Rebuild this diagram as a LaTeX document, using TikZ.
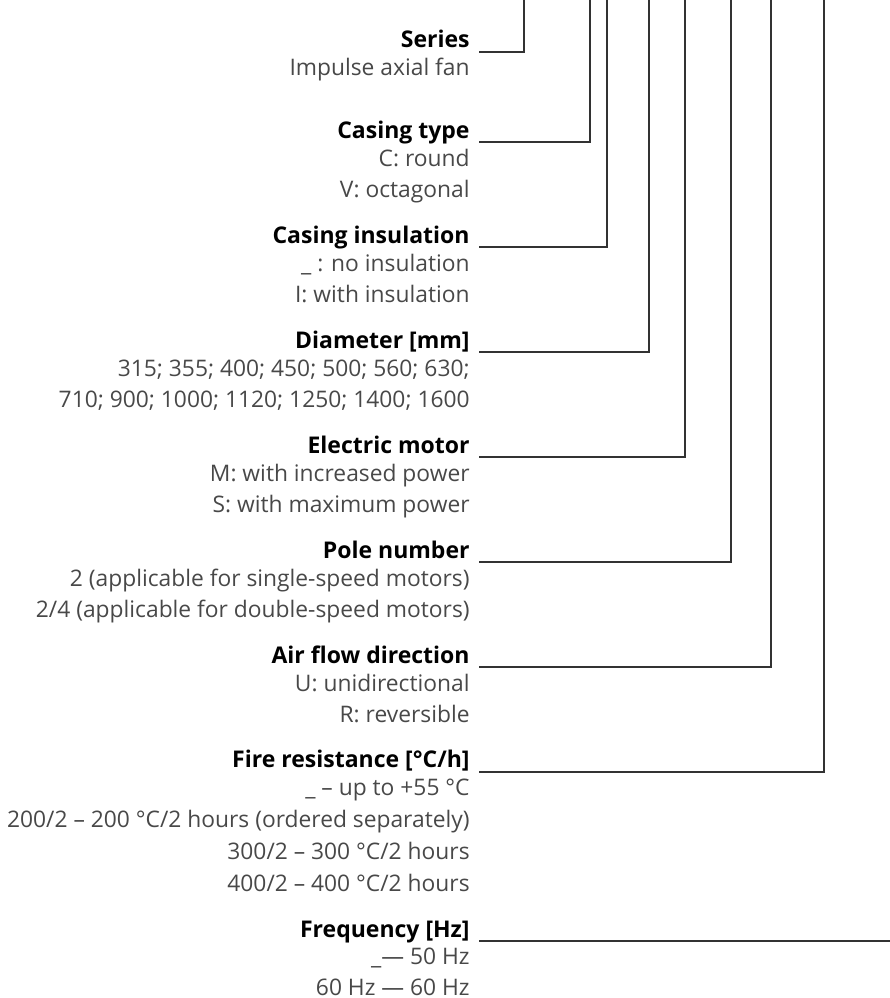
\documentclass[tikz,border=0pt]{standalone}
\usepackage{fontspec}
\setmainfont{Open Sans}
\usepackage{tikz}
\definecolor{txtgray}{RGB}{72,72,72}
\definecolor{leadgray}{RGB}{50,50,50}
\tikzset{
  head/.style={anchor=base east, inner sep=0pt, font=\fontsize{11.5}{13}\selectfont\bfseries, text=black},
  opt/.style={anchor=base east, inner sep=0pt, font=\fontsize{11.4}{13}\selectfont, text=txtgray},
  lead/.style={draw=leadgray, line width=0.55pt},
}
\begin{document}
\begin{tikzpicture}[x=0.5pt,y=0.5pt]
\useasboundingbox (0,0) rectangle (890,-998);
\coordinate (t1) at (524,0);
\coordinate (t2) at (590,0);
\coordinate (t3) at (607,0);
\coordinate (t4) at (649,0);
\coordinate (t5) at (685,0);
\coordinate (t6) at (731,0);
\coordinate (t7) at (771,0);
\coordinate (t8) at (824,0);
\coordinate (t9) at (890,-941);
\node [head] (series) at (470,-47) {Series};
\node [opt] (series1) at (470,-75) {Impulse axial fan};
\node [head] (casing) at (470,-138) {Casing type};
\node [opt] (casing1) at (470,-166) {C: round};
\node [opt] (casing2) at (470,-197) {V: octagonal};
\node [head] (insul) at (470,-243) {Casing insulation};
\node [opt] (insul1) at (470,-271) {\_ : no insulation};
\node [opt] (insul2) at (470,-302) {I: with insulation};
\node [head] (diam) at (470,-348) {Diameter [mm]};
\node [opt] (diam1) at (470,-376) {315; 355; 400; 450; 500; 560; 630;};
\node [opt] (diam2) at (470,-407) {710; 900; 1000; 1120; 1250; 1400; 1600};
\node [head] (motor) at (470,-453) {Electric motor};
\node [opt] (motor1) at (470,-481) {M: with increased power};
\node [opt] (motor2) at (470,-512) {S: with maximum power};
\node [head] (pole) at (470,-558) {Pole number};
\node [opt] (pole1) at (470,-586) {2 (applicable for single-speed motors)};
\node [opt] (pole2) at (470,-617) {2/4 (applicable for double-speed motors)};
\node [head] (flow) at (470,-663) {Air flow direction};
\node [opt] (flow1) at (470,-691) {U: unidirectional};
\node [opt] (flow2) at (470,-722) {R: reversible};
\node [head] (fire) at (470,-767) {Fire resistance [°C/h]};
\node [opt] (fire1) at (470,-795) {\_ – up to +55 °C};
\node [opt] (fire2) at (470,-827) {200/2 – 200 °C/2 hours (ordered separately)};
\node [opt] (fire3) at (470,-859) {300/2 – 300 °C/2 hours};
\node [opt] (fire4) at (470,-891) {400/2 – 400 °C/2 hours};
\node [head] (freq) at (470,-937) {Frequency [Hz]};
\node [opt] (freq1) at (470,-964) {\_— 50 Hz};
\node [opt] (freq2) at (470,-995) {60 Hz — 60 Hz};
\draw [lead] ([shift={(4.5pt,-2.5pt)}]series.base east) -| (t1);
\draw [lead] ([shift={(4.5pt,-2pt)}]casing.base east) -| (t2);
\draw [lead] ([shift={(4.5pt,-2pt)}]insul.base east) -| (t3);
\draw [lead] ([shift={(4.5pt,-2pt)}]diam.base east) -| (t4);
\draw [lead] ([shift={(4.5pt,-2pt)}]motor.base east) -| (t5);
\draw [lead] ([shift={(4.5pt,-2pt)}]pole.base east) -| (t6);
\draw [lead] ([shift={(4.5pt,-2pt)}]flow.base east) -| (t7);
\draw [lead] ([shift={(4.5pt,-2.5pt)}]fire.base east) -| (t8);
\draw [lead] ([shift={(4.5pt,-2pt)}]freq.base east) -- (t9);
\end{tikzpicture}
\end{document}
